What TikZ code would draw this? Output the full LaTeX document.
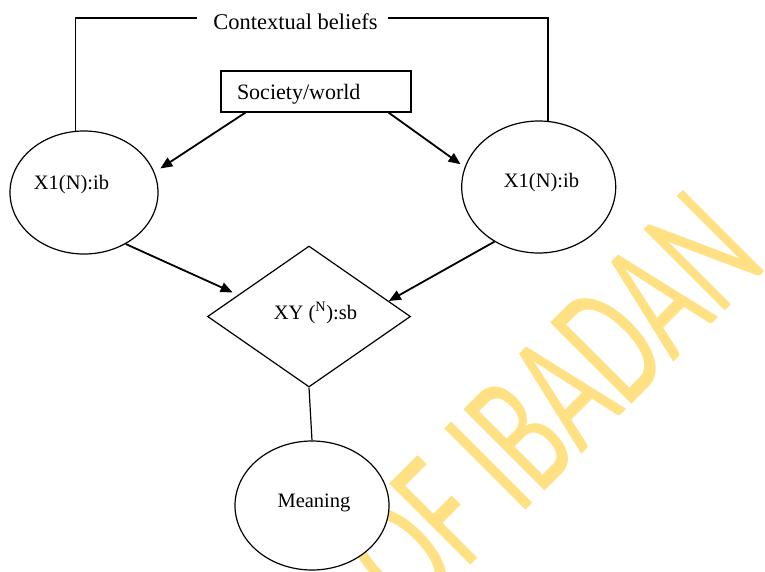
\documentclass[tikz,border=0pt]{standalone}
\usepackage{fontspec}
\setmainfont{Liberation Serif}
\newfontfamily\wmfont{Carlito}
\usetikzlibrary{shapes.geometric,arrows.meta,calc}
\definecolor{wmyellow}{RGB}{255,224,130}
\begin{document}
\begin{tikzpicture}[x=1pt,y=-1pt,
  outl/.style={draw=black, line width=1.2pt},
  oval/.style={outl, ellipse, fill=white, inner sep=0pt},
  arr/.style={line width=1.8pt, -{Triangle[length=12pt,width=10pt]}},
  lbl/.style={font=\fontsize{20.5}{24}\selectfont, inner sep=0pt},
]
\useasboundingbox (0,0) rectangle (765,571);
\begin{scope}
\clip (0,0) rectangle (765,571);
\node[rotate=45, anchor=base east, inner sep=0pt, text=wmyellow] (wm) at (770,266)
  {\scalebox{0.62}[1]{\wmfont\fontsize{179}{179}\selectfont OF IBADAN}};
\end{scope}

\node[oval, minimum width=148, minimum height=123] (L) at (84,192.5) {};
\node[oval, minimum width=154, minimum height=132] (R) at (538.7,187) {};
\node[oval, minimum width=154, minimum height=129] (M) at (312,505.5) {};
\node[outl, diamond, fill=white, minimum width=203, minimum height=141, inner sep=0pt] (D) at (309,316.5) {};
\node[outl, rectangle, fill=white, minimum width=190, minimum height=41, text width=158,
  inner xsep=16, inner ysep=0, align=left, font=\fontsize{22}{26}\selectfont] (S) at (316,91.5)
  {\raisebox{-3pt}[\height][\depth]{Society/world}};

\node[font=\fontsize{22.5}{26}\selectfont, anchor=base, inner sep=0pt] (ctx) at (295.5,29) {Contextual beliefs};
\node[lbl, anchor=base] (Lt) at (71.5,189) {X1(N):ib};
\node[lbl, anchor=base] (Rt) at (541.5,187) {X1(N):ib};
\node[lbl, anchor=base] (Dt) at (315.5,319) {XY (\textsuperscript{N}):sb};
\node[lbl, anchor=base] (Mt) at (314,507) {Meaning};

\coordinate (cl) at (197,18);
\coordinate (cr) at (388,18);
\draw[outl] (L.98) |- (cl);
\draw[outl] (cr) -| (R.82);

\draw[arr, shorten >=7pt] ($(S.south west)+(25,0)$) -- (L.16);
\draw[arr, shorten >=5pt] ($(S.south east)+(-23,0)$) -- (R.165);
\draw[arr, shorten >=6pt] (L.-51) -- (D.163);
\draw[arr] (R.231) -- (D.11);
\draw[outl] (D.south) -- (M.north);
\end{tikzpicture}
\end{document}
